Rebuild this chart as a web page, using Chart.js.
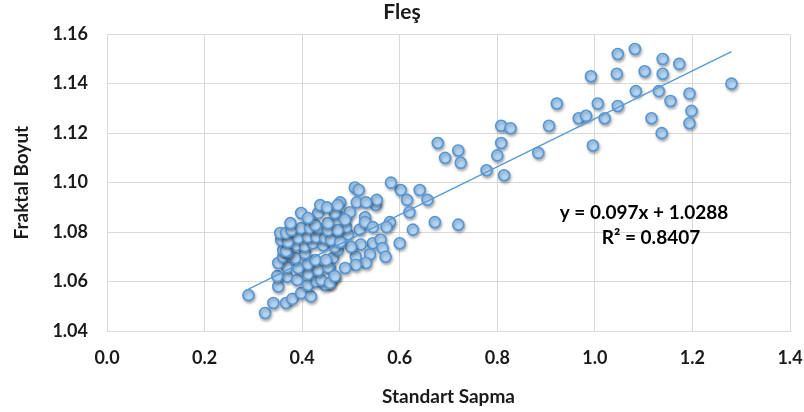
<!DOCTYPE html>
<html>
<head>
<meta charset="utf-8">
<script src="https://cdn.jsdelivr.net/npm/chart.js@4.4.1/dist/chart.umd.min.js"></script>
<style>
  html, body { margin: 0; padding: 0; background: #fff; }
  #wrap { width: 804px; height: 412px; }
</style>
</head>
<body>
<div id="wrap"><canvas id="scatterChart" width="804" height="412"></canvas></div>
<script>
// Values
const xValues = [
    0.992, 1.047, 1.082, 1.139, 1.173, 1.045, 1.102, 1.139, 1.084, 1.131, 1.194, 1.280,
    1.006, 1.047, 1.155, 1.198, 1.194, 0.967, 0.982, 1.020, 1.116, 1.137, 0.996, 0.922,
    0.678, 0.693, 0.720, 0.725, 0.778, 0.808, 0.827, 0.808, 0.800, 0.814, 0.906, 0.884,
    0.602, 0.641, 0.615, 0.657, 0.620, 0.672, 0.720, 0.627,
    0.582, 0.508, 0.516, 0.551, 0.553, 0.478, 0.512, 0.467, 0.529, 0.488, 0.580, 0.573,
    0.473, 0.518, 0.494, 0.600, 0.545, 0.561, 0.520, 0.459, 0.565, 0.571, 0.539, 0.510,
    0.531, 0.510, 0.488, 0.463, 0.457, 0.467, 0.457, 0.473, 0.490, 0.469, 0.498, 0.531,
    0.529, 0.545, 0.500,
    0.290, 0.324, 0.341, 0.367, 0.380, 0.398, 0.418, 0.351, 0.369, 0.390, 0.412, 0.429,
    0.447, 0.439, 0.457, 0.349, 0.412, 0.433, 0.453, 0.467, 0.369, 0.392, 0.412, 0.351,
    0.361, 0.386, 0.427, 0.449, 0.371, 0.406, 0.361, 0.367, 0.388, 0.406, 0.422, 0.443,
    0.467, 0.357, 0.371, 0.392, 0.412, 0.429, 0.447, 0.459, 0.478, 0.355, 0.367, 0.378,
    0.398, 0.416, 0.433, 0.453, 0.473, 0.376, 0.427, 0.453, 0.398, 0.433, 0.467, 0.437,
    0.451, 0.473, 0.412, 0.488
];
const yValues = [
    1.143, 1.152, 1.154, 1.150, 1.148, 1.144, 1.145, 1.144, 1.137, 1.137, 1.136, 1.140,
    1.132, 1.131, 1.133, 1.129, 1.124, 1.126, 1.127, 1.126, 1.126, 1.120, 1.115, 1.132,
    1.116, 1.110, 1.113, 1.108, 1.105, 1.123, 1.122, 1.116, 1.111, 1.103, 1.123, 1.112,
    1.097, 1.097, 1.093, 1.093, 1.088, 1.084, 1.083, 1.081,
    1.100, 1.098, 1.097, 1.091, 1.093, 1.092, 1.092, 1.088, 1.086, 1.086, 1.084, 1.082,
    1.081, 1.081, 1.079, 1.0755, 1.0755, 1.077, 1.075, 1.076, 1.0735, 1.070, 1.071, 1.070,
    1.0675, 1.0667, 1.0655, 1.0695, 1.0655, 1.062, 1.0594, 1.0727, 1.082, 1.084, 1.088, 1.092,
    1.084, 1.082, 1.074,
    1.0545, 1.0473, 1.0513, 1.0513, 1.053, 1.0553, 1.054, 1.058, 1.062, 1.0606, 1.0586, 1.060,
    1.0586, 1.0606, 1.0594, 1.0622, 1.063, 1.0646, 1.0658, 1.0622, 1.0658, 1.0655, 1.067, 1.0675,
    1.070, 1.0695, 1.0687, 1.0687, 1.0715, 1.0715, 1.0727, 1.0723, 1.0747, 1.0743, 1.0755, 1.0747,
    1.074, 1.0768, 1.076, 1.0776, 1.078, 1.078, 1.0776, 1.0768, 1.076, 1.0796, 1.0796, 1.0808,
    1.0816, 1.0816, 1.0816, 1.0808, 1.0808, 1.0836, 1.0828, 1.0836, 1.0877, 1.0877, 1.0877, 1.0909,
    1.090, 1.0909, 1.0857, 1.085
];

// Trendline from the equation shown on the chart
const trendSlope = 0.097;
const trendIntercept = 1.0288;
const rSquared = 0.8407;

const xTicks = [0, 0.2, 0.4, 0.6, 0.8, 1.0, 1.2, 1.4];
const yTicks = [1.04, 1.06, 1.08, 1.10, 1.12, 1.14, 1.16];

const points = xValues.map((x, i) => ({ x: x, y: yValues[i] }));
const xMin = Math.min(...xValues);
const xMax = Math.max(...xValues);
const trend = [
    { x: xMin, y: trendSlope * xMin + trendIntercept },
    { x: xMax, y: trendSlope * xMax + trendIntercept }
];

const fontFamily = 'Lato, "Open Sans", sans-serif';
const textColor = '#1a1a1a';
const gridColor = '#d9d9d9';

// soft shadow under markers, like the spreadsheet original
const shadowPlugin = {
    id: 'markerShadow',
    beforeDatasetDraw(chart, args) {
        if (args.index !== 0) return;
        const c = chart.ctx;
        c.save();
        c.shadowColor = 'rgba(0,0,0,0.3)';
        c.shadowBlur = 3;
        c.shadowOffsetX = 1;
        c.shadowOffsetY = 2;
    },
    afterDatasetDraw(chart, args) {
        if (args.index !== 0) return;
        chart.ctx.restore();
    }
};

// equation label
const equationPlugin = {
    id: 'equation',
    afterDraw(chart) {
        const c = chart.ctx;
        const area = chart.chartArea;
        c.save();
        c.fillStyle = '#000';
        c.font = 'bold 19px ' + fontFamily;
        c.textAlign = 'center';
        c.textBaseline = 'middle';
        c.fillText('y = ' + trendSlope + 'x + ' + trendIntercept, area.left + 537, area.top + 179);
        c.fillText('R² = ' + rSquared, area.left + 544, area.top + 204);
        c.restore();
    }
};

const ctx = document.getElementById('scatterChart').getContext('2d');
new Chart(ctx, {
    type: 'scatter',
    data: {
        datasets: [{
            label: 'Fleş',
            data: points,
            backgroundColor: '#b2d4f4',
            borderColor: '#5596d4',
            borderWidth: 1.6,
            pointRadius: 5.5,
            order: 1
        }, {
            type: 'line',
            label: 'Trend',
            data: trend,
            borderColor: '#5b9bd5',
            borderWidth: 1.5,
            pointRadius: 0,
            fill: false,
            order: 0
        }]
    },
    options: {
        responsive: false,
        animation: false,
        layout: { padding: 0 },
        plugins: {
            legend: { display: false },
            tooltip: { enabled: false },
            title: {
                display: true,
                text: 'Fleş',
                color: textColor,
                font: { family: fontFamily, size: 21, weight: 'bold' },
                padding: { top: 0, bottom: 9 }
            }
        },
        scales: {
            x: {
                type: 'linear',
                min: 0,
                max: 1.4,
                afterBuildTicks: (scale) => { scale.ticks = xTicks.map(v => ({ value: v })); },
                afterFit: (scale) => { scale.height = 81; scale.paddingRight = 14; scale.paddingLeft = 0; },
                grid: { color: gridColor, drawTicks: false },
                border: { color: gridColor },
                ticks: {
                    color: textColor,
                    padding: 16,
                    font: { family: fontFamily, size: 18, weight: 'bold' },
                    callback: (v) => Number(v).toFixed(1)
                },
                title: {
                    display: true,
                    text: 'Standart Sapma',
                    color: textColor,
                    font: { family: fontFamily, size: 19, weight: 'bold' },
                    padding: { top: 0, bottom: 4 }
                }
            },
            y: {
                type: 'linear',
                min: 1.04,
                max: 1.16,
                afterBuildTicks: (scale) => { scale.ticks = yTicks.map(v => ({ value: v })); },
                afterFit: (scale) => { scale.width = 107; },
                grid: { color: gridColor, drawTicks: false },
                border: { color: gridColor },
                ticks: {
                    color: textColor,
                    padding: 19,
                    font: { family: fontFamily, size: 18, weight: 'bold' },
                    callback: (v) => Number(v).toFixed(2)
                },
                title: {
                    display: true,
                    text: 'Fraktal Boyut',
                    color: textColor,
                    font: { family: fontFamily, size: 19, weight: 'bold' },
                    padding: { top: 10, bottom: 0 }
                }
            }
        }
    },
    plugins: [shadowPlugin, equationPlugin]
});
</script>
</body>
</html>
